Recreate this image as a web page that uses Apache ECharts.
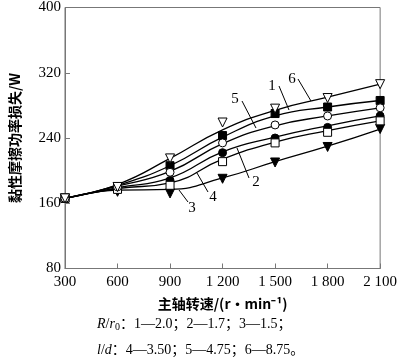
<!DOCTYPE html>
<html><head><meta charset="utf-8">
<script src="https://cdn.jsdelivr.net/npm/echarts@6/dist/echarts.min.js"></script>
<style>html,body{margin:0;padding:0;background:#fff}#c{width:400px;height:362px}</style>
</head><body><div id="c"></div>
<script>
const speeds = [300, 600, 900, 1200, 1500, 1800, 2100];
// measured points (markers)
const s1 = [166, 179, 206, 243, 270, 278, 286]; // R/r0 2.0, filled square
const s2 = [166, 178, 188, 222, 240, 253, 267]; // R/r0 1.7, filled circle
const s3 = [166, 174, 172, 190, 210, 229, 251]; // R/r0 1.5, filled down-triangle
const s4 = [166, 177, 182, 211, 234, 247, 261]; // l/d 3.50, open square
const s5 = [166, 180, 198, 234, 256, 267, 277]; // l/d 4.75, open circle
const s6 = [166, 180, 215, 259, 276, 289, 306]; // l/d 8.75, open down-triangle
// fitted curves
const c1 = [166, 182, 206, 241, 267, 278, 286];
const c2 = [166, 179, 191, 223, 241, 255, 267];
const c3 = [166, 176, 177, 191, 211, 230, 251];
const c4 = [166, 178, 185, 214, 235, 249, 261];
const c5 = [166, 181, 199, 233, 255, 267, 277];
const c6 = [166, 183, 215, 250, 274, 290, 306];
const yTicks = [80, 160, 240, 320, 400];
const xTickLabels = {300:'300',600:'600',900:'900',1200:'1 200',1500:'1 500',1800:'1 800',2100:'2 100'};

const serif = '"Liberation Serif","DejaVu Serif",serif';
const mixed = '"Liberation Serif","Noto Sans CJK SC",serif';
const cjk = '"Noto Sans CJK SC","Liberation Serif",serif';
function curve(name, data) {
  return {
    name: name + '-fit', type: 'line', smooth: 0.5, showSymbol: false, symbol: 'none',
    data: speeds.map((x, i) => [x, data[i]]),
    lineStyle: {color: '#000', width: 1.3}, z: 2
  };
}
function pts(name, data, symbol, filled, rot) {
  return {
    name, type: 'scatter',
    data: speeds.map((x, i) => [x, data[i]]),
    symbol, symbolSize: symbol === 'triangle' ? 9 : 8, symbolRotate: rot || 0,
    itemStyle: {color: filled ? '#000' : '#fff', borderColor: '#000', borderWidth: 1, opacity: 1},
    z: 3
  };
}
const chart = echarts.init(document.getElementById('c'), null, {renderer: 'canvas'});
chart.setOption({
  animation: false,
  backgroundColor: '#fff',
  grid: {left: 56, right: 17, top: 6, bottom: 93.5, show: true, borderColor: '#777', borderWidth: 1, backgroundColor: 'transparent'},
  xAxis: {
    type: 'value', min: 300, max: 2100, interval: 300,
    axisLine: {lineStyle: {color: '#777'}},
    axisTick: {inside: true, length: 5, lineStyle: {color: '#777'}},
    splitLine: {show: false},
    axisLabel: {color: '#000', fontFamily: serif, fontSize: 15, margin: 6, formatter: v => xTickLabels[v] || ''},
    name: '主轴转速/(r·min⁻¹)', nameLocation: 'middle', nameGap: 28,
    nameTextStyle: {color: '#000', fontFamily: cjk, fontSize: 14, fontWeight: 'bold'}
  },
  yAxis: {
    type: 'value', min: 80, max: 400, interval: 80,
    axisLine: {lineStyle: {color: '#777'}},
    axisTick: {inside: true, length: 5, lineStyle: {color: '#777'}},
    splitLine: {show: false},
    axisLabel: {color: '#000', fontFamily: serif, fontSize: 15, margin: 4, formatter: v => yTicks.includes(v) ? String(v) : ''},
    name: '黏性摩擦功率损失/W', nameLocation: 'middle', nameGap: 43,
    nameTextStyle: {color: '#000', fontFamily: cjk, fontSize: 14, fontWeight: 'bold'}
  },
  series: [
    curve('1', c1), curve('2', c2), curve('3', c3), curve('4', c4), curve('5', c5), curve('6', c6),
    pts('1', s1, 'rect', true),
    pts('2', s2, 'circle', true),
    pts('3', s3, 'triangle', true, 180),
    pts('4', s4, 'rect', false),
    pts('5', s5, 'circle', false),
    pts('6', s6, 'triangle', false, 180)
  ],
  graphic: [
    {type: 'line', shape: {x1: 279, y1: 86, x2: 289, y2: 110}, style: {stroke: '#000', lineWidth: 1}},
    {type: 'line', shape: {x1: 298, y1: 79, x2: 311, y2: 101}, style: {stroke: '#000', lineWidth: 1}},
    {type: 'line', shape: {x1: 242, y1: 101, x2: 256, y2: 128}, style: {stroke: '#000', lineWidth: 1}},
    {type: 'line', shape: {x1: 249, y1: 178, x2: 237, y2: 148}, style: {stroke: '#000', lineWidth: 1}},
    {type: 'line', shape: {x1: 208, y1: 192, x2: 197, y2: 173}, style: {stroke: '#000', lineWidth: 1}},
    {type: 'line', shape: {x1: 188, y1: 202, x2: 179, y2: 190}, style: {stroke: '#000', lineWidth: 1}},
    {type: 'text', x: 272, y: 86, style: {text: '1', font: '15px ' + serif, fill: '#000', textAlign: 'center', textVerticalAlign: 'middle'}},
    {type: 'text', x: 292, y: 79, style: {text: '6', font: '15px ' + serif, fill: '#000', textAlign: 'center', textVerticalAlign: 'middle'}},
    {type: 'text', x: 235, y: 99, style: {text: '5', font: '15px ' + serif, fill: '#000', textAlign: 'center', textVerticalAlign: 'middle'}},
    {type: 'text', x: 256, y: 182, style: {text: '2', font: '15px ' + serif, fill: '#000', textAlign: 'center', textVerticalAlign: 'middle'}},
    {type: 'text', x: 213, y: 197, style: {text: '4', font: '15px ' + serif, fill: '#000', textAlign: 'center', textVerticalAlign: 'middle'}},
    {type: 'text', x: 192, y: 208, style: {text: '3', font: '15px ' + serif, fill: '#000', textAlign: 'center', textVerticalAlign: 'middle'}},
    {type: 'text', x: 97, y: 324, style: {
      text: '{i|R}{n|/}{i|r}{sub|0}{n|：1—2.0；2—1.7；3—1.5；}',
      textVerticalAlign: 'middle',
      rich: {
        i: {fontFamily: serif, fontStyle: 'italic', fontSize: 14, fill: '#000'},
        n: {fontFamily: mixed, fontSize: 14, fill: '#000'},
        sub: {fontFamily: serif, fontSize: 10, fill: '#000', padding: [6, 0, 0, 0]}
      }
    }},
    {type: 'text', x: 97, y: 350, style: {
      text: '{i|l}{n|/}{i|d}{n|：4—3.50；5—4.75；6—8.75。}',
      textVerticalAlign: 'middle',
      rich: {
        i: {fontFamily: serif, fontStyle: 'italic', fontSize: 14, fill: '#000'},
        n: {fontFamily: mixed, fontSize: 14, fill: '#000'}
      }
    }}
  ]
});
</script></body></html>
